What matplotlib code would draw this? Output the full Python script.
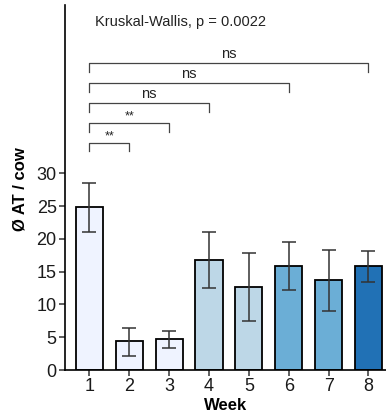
import matplotlib
matplotlib.use("Agg")
import matplotlib.pyplot as plt

plt.rcParams['font.family'] = ['Liberation Sans', 'DejaVu Sans']

# data
weeks = [1, 2, 3, 4, 5, 6, 7, 8]
means = [24.8, 4.4, 4.7, 16.8, 12.7, 15.9, 13.7, 15.8]
err_lo = [21.1, 2.2, 3.35, 12.5, 7.45, 12.2, 9.0, 13.5]
err_hi = [28.5, 6.45, 6.0, 21.1, 17.8, 19.6, 18.3, 18.1]
bar_colors = ['#EFF3FF', '#EFF3FF', '#EFF3FF', '#BDD7E7', '#BDD7E7',
              '#6BAED6', '#6BAED6', '#2171B5']

# pairwise comparisons against week 1
comparisons = [(1, 2), (1, 3), (1, 4), (1, 6), (1, 8)]
comp_labels = ['**', '**', 'ns', 'ns', 'ns']
kw_label = "Kruskal-Wallis, p = 0.0022"

fig = plt.figure(figsize=(3.86, 4.17), dpi=100)
ax = fig.add_axes([0.1684, 0.1127, 0.8316, 0.8753])

yerr = [[m - lo for m, lo in zip(means, err_lo)],
        [hi - m for m, hi in zip(means, err_hi)]]
ax.bar(weeks, means, width=0.68, color=bar_colors, edgecolor='black',
       linewidth=1.3, zorder=2)
ax.errorbar(weeks, means, yerr=yerr, fmt='none', ecolor='#333333',
            elinewidth=1.1, capsize=5, capthick=1.1, zorder=3)

# significance brackets
base, step, drop = 34.7, 3.03, 1.35
for i, ((a, b), lab) in enumerate(zip(comparisons, comp_labels)):
    y = base + i * step
    ax.plot([a, a, b, b], [y - drop, y, y, y - drop], color='#444444',
            linewidth=0.9, clip_on=False)
    if lab == 'ns':
        ax.text((a + b) / 2, y + 0.35, lab, ha='center', va='bottom',
                fontsize=10.5, color='#222222')
    else:
        ax.text((a + b) / 2, y + 0.1, lab, ha='center', va='bottom',
                fontsize=9, color='#222222')

ax.text(1.14, 53.1, kw_label, ha='left', va='center', fontsize=10.5,
        color='#222222')

ax.set_xlim(0.39, 8.44)
ax.set_ylim(0, 55.7)
ax.set_xticks(weeks)
ax.set_yticks([0, 5, 10, 15, 20, 25, 30])
ax.tick_params(axis='both', labelsize=13, length=4, width=1.1,
               color='#333333', labelcolor='#1a1a1a', pad=2)
for side in ['top', 'right']:
    ax.spines[side].set_visible(False)
for side in ['left', 'bottom']:
    ax.spines[side].set_linewidth(1.2)

ax.set_xlabel('Week', fontsize=12, fontweight='bold', labelpad=2)
ax.set_ylabel('Ø AT / cow', fontsize=12, fontweight='bold')
ax.yaxis.set_label_coords(-0.118, 0.495)

fig.savefig('out.png', dpi=100)
